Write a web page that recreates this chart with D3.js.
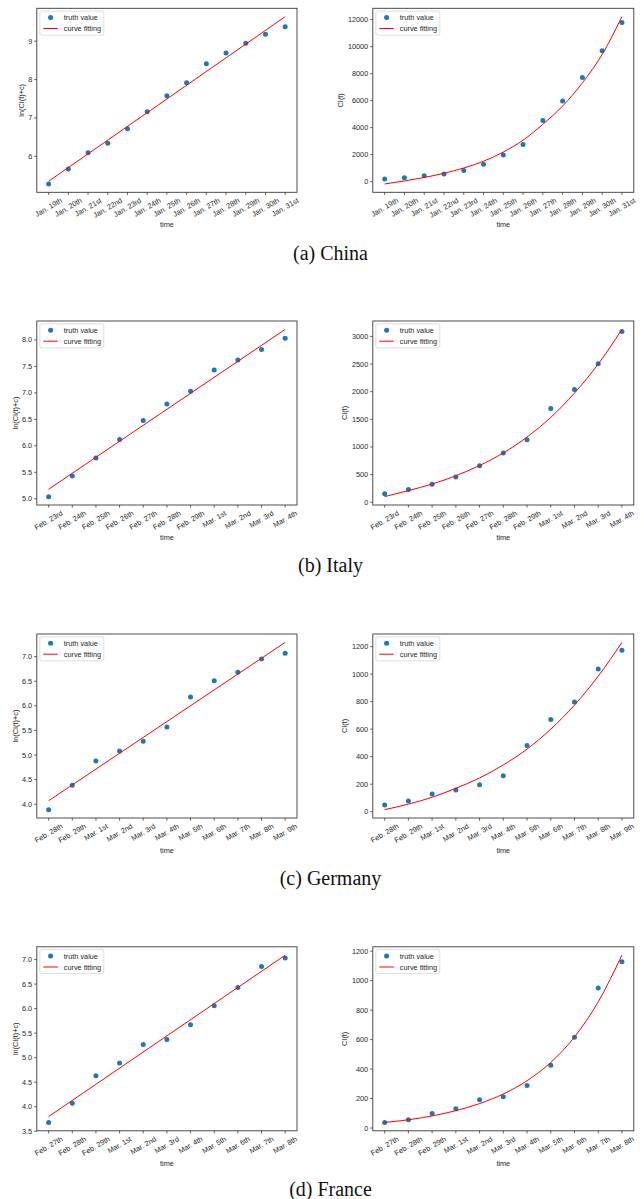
<!DOCTYPE html>
<html>
<head>
<meta charset="utf-8">
<script src="https://cdn.jsdelivr.net/npm/d3@7"></script>
<style>
  html, body { margin: 0; padding: 0; background: #fff; }
  svg { display: block; }
</style>
</head>
<body>
<svg id="fig" width="644" height="1199"></svg>
<script>
// ---- China ----
const datesChina = ["Jan. 19th","Jan. 20th","Jan. 21st","Jan. 22nd","Jan. 23rd","Jan. 24th","Jan. 25th","Jan. 26th","Jan. 27th","Jan. 28th","Jan. 29th","Jan. 30th","Jan. 31st"];
const casesChina = [200, 290, 440, 570, 830, 1290, 1970, 2750, 4520, 5970, 7710, 9700, 11790];
const fitChina = [-170, 50, 310, 620, 1010, 1510, 2190, 3070, 4250, 5600, 7320, 9420, 12220];
const lnChina = [5.28, 5.67, 6.09, 6.34, 6.72, 7.16, 7.58, 7.92, 8.41, 8.69, 8.95, 9.18, 9.38];
const lnFitChina = [5.35, 9.64];
const lnTicksChina = [6, 7, 8, 9];
const ciTicksChina = [0, 2000, 4000, 6000, 8000, 10000, 12000];

// ---- Italy ----
const datesItaly = ["Feb. 23rd","Feb. 24th","Feb. 25th","Feb. 26th","Feb. 27th","Feb. 28th","Feb. 29th","Mar. 1st","Mar. 2nd","Mar. 3rd","Mar. 4th"];
const casesItaly = [155, 230, 325, 455, 660, 890, 1130, 1695, 2040, 2505, 3090];
const fitItaly = [102, 211, 330, 480, 665, 892, 1180, 1535, 1975, 2500, 3127];
const lnItaly = [5.04, 5.43, 5.77, 6.12, 6.48, 6.79, 7.03, 7.43, 7.62, 7.82, 8.03];
const lnFitItaly = [5.18, 8.20];
const lnTicksItaly = [5.0, 5.5, 6.0, 6.5, 7.0, 7.5, 8.0];
const ciTicksItaly = [0, 500, 1000, 1500, 2000, 2500, 3000];

// ---- Germany ----
const datesGermany = ["Feb. 28th","Feb. 29th","Mar. 1st","Mar. 2nd","Mar. 3rd","Mar. 4th","Mar. 5th","Mar. 6th","Mar. 7th","Mar. 8th","Mar. 9th"];
const casesGermany = [48, 77, 128, 157, 196, 261, 481, 670, 798, 1038, 1173];
const fitGermany = [15, 55, 105, 170, 245, 340, 455, 600, 775, 985, 1231];
const lnGermany = [3.89, 4.385, 4.88, 5.08, 5.28, 5.57, 6.18, 6.51, 6.68, 6.95, 7.07];
const lnFitGermany = [4.07, 7.29];
const lnTicksGermany = [4.0, 4.5, 5.0, 5.5, 6.0, 6.5, 7.0];
const ciTicksGermany = [0, 200, 400, 600, 800, 1000, 1200];

// ---- France ----
const datesFrance = ["Feb. 27th","Feb. 28th","Feb. 29th","Mar. 1st","Mar. 2nd","Mar. 3rd","Mar. 4th","Mar. 5th","Mar. 6th","Mar. 7th","Mar. 8th"];
const casesFrance = [38, 57, 99, 131, 192, 212, 289, 426, 616, 950, 1128];
const fitFrance = [38, 56, 82, 118, 166, 231, 321, 445, 618, 856, 1173];
const lnFrance = [3.68, 4.07, 4.63, 4.89, 5.27, 5.37, 5.67, 6.06, 6.43, 6.86, 7.03];
const lnFitFrance = [3.80, 7.09];
const lnTicksFrance = [3.5, 4.0, 4.5, 5.0, 5.5, 6.0, 6.5, 7.0];
const ciTicksFrance = [0, 200, 400, 600, 800, 1000, 1200];

const captions = ["(a) China", "(b) Italy", "(c) Germany", "(d) France"];
const legendLabels = ["truth value", "curve fitting"];
const xLabel = "time";
const lnLabel = "ln(CI(t)+c)";
const ciLabel = "CI(t)";

const rows = [
  { dates: datesChina,   ln: lnChina,   lnFit: lnFitChina,   lnTicks: lnTicksChina,   lnFmt: d3.format("d"),   cases: casesChina,   fit: fitChina,   ciTicks: ciTicksChina },
  { dates: datesItaly,   ln: lnItaly,   lnFit: lnFitItaly,   lnTicks: lnTicksItaly,   lnFmt: d3.format(".1f"), cases: casesItaly,   fit: fitItaly,   ciTicks: ciTicksItaly },
  { dates: datesGermany, ln: lnGermany, lnFit: lnFitGermany, lnTicks: lnTicksGermany, lnFmt: d3.format(".1f"), cases: casesGermany, fit: fitGermany, ciTicks: ciTicksGermany },
  { dates: datesFrance,  ln: lnFrance,  lnFit: lnFitFrance,  lnTicks: lnTicksFrance,  lnFmt: d3.format(".1f"), cases: casesFrance,  fit: fitFrance,  ciTicks: ciTicksFrance }
];

// ---- layout ----
const SANS = "'Liberation Sans', Arial, sans-serif";
const SERIF = "'Liberation Serif', 'Times New Roman', serif";
const FS = 7.3;
const BLUE = "#1f77b4", RED = "#ff0000", INK = "#262626";
const rowTops = [8.3, 321, 634, 946.8];
const captionY = [259.5, 572, 884.5, 1196];
const panelH = 184;
const leftX = [36.8, 297];
const rightX = [372.8, 633.8];

const svg = d3.select("#fig");
svg.append("rect").attr("width", 644).attr("height", 1199).attr("fill", "#fff");

function drawPanel(g, x0, x1, top, dates, pts, fitPts, fitIdx, ticks, fmt, yLab, curve) {
  const n = dates.length;
  const bottom = top + panelH;
  const pad = 0.05 * (n - 1);
  const x = d3.scaleLinear().domain([-pad, n - 1 + pad]).range([x0, x1]);
  const all = pts.concat(fitPts);
  const lo = d3.min(all), hi = d3.max(all), m = 0.05 * (hi - lo);
  const y = d3.scaleLinear().domain([lo - m, hi + m]).range([bottom, top]);

  // points
  g.append("g").selectAll("circle").data(pts).join("circle")
    .attr("cx", (d, i) => x(i)).attr("cy", d => y(d)).attr("r", 2.5)
    .attr("fill", BLUE);

  // fitted curve
  const line = d3.line().x((d, i) => x(fitIdx[i])).y(d => y(d)).curve(curve);
  g.append("path").datum(fitPts).attr("d", line)
    .attr("fill", "none").attr("stroke", RED).attr("stroke-width", 1);

  // frame
  g.append("rect").attr("x", x0).attr("y", top).attr("width", x1 - x0).attr("height", panelH)
    .attr("fill", "none").attr("stroke", "#3a3a3a").attr("stroke-width", 0.9);

  // x ticks
  const xt = g.append("g");
  xt.selectAll("line").data(dates).join("line")
    .attr("x1", (d, i) => x(i)).attr("x2", (d, i) => x(i))
    .attr("y1", bottom).attr("y2", bottom + 2.6)
    .attr("stroke", "#3a3a3a").attr("stroke-width", 0.8);
  const ang = 30 * Math.PI / 180;
  xt.selectAll("text").data(dates).join("text")
    .text(d => d)
    .attr("font-family", SANS).attr("font-size", FS).attr("fill", INK)
    .attr("text-anchor", "middle").attr("dominant-baseline", "central")
    .each(function (d, i) {
      const w = this.getComputedTextLength();
      const hb = w * Math.sin(ang) + FS * 0.8 * Math.cos(ang);
      const cx = x(i), cy = bottom + 5 + hb / 2;
      d3.select(this).attr("x", cx).attr("y", cy)
        .attr("transform", `rotate(-30,${cx},${cy})`);
    });

  // y ticks
  const yt = g.append("g");
  yt.selectAll("line").data(ticks).join("line")
    .attr("x1", x0 - 2.6).attr("x2", x0)
    .attr("y1", d => y(d)).attr("y2", d => y(d))
    .attr("stroke", "#3a3a3a").attr("stroke-width", 0.8);
  let maxW = 0;
  yt.selectAll("text").data(ticks).join("text")
    .text(d => fmt(d))
    .attr("x", x0 - 4.6).attr("y", d => y(d))
    .attr("font-family", SANS).attr("font-size", FS).attr("fill", INK)
    .attr("text-anchor", "end").attr("dominant-baseline", "central")
    .each(function () { maxW = Math.max(maxW, this.getComputedTextLength()); });

  // axis labels
  g.append("text").text(xLabel)
    .attr("x", (x0 + x1) / 2).attr("y", bottom + 32.5)
    .attr("font-family", SANS).attr("font-size", FS).attr("fill", INK)
    .attr("text-anchor", "middle").attr("dominant-baseline", "central");
  // y label sits just outside the widest tick label
  const labX = x0 - 4.6 - maxW - 7;
  const labY = top + panelH / 2;
  g.append("text").text(yLab)
    .attr("x", labX).attr("y", labY)
    .attr("transform", `rotate(-90,${labX},${labY})`)
    .attr("font-family", SANS).attr("font-size", FS).attr("fill", INK)
    .attr("text-anchor", "middle").attr("dominant-baseline", "central");

  // legend
  const lg = g.append("g");
  lg.append("rect").attr("x", x0 + 3).attr("y", top + 2.8).attr("width", 64).attr("height", 24)
    .attr("rx", 2).attr("fill", "#fff").attr("fill-opacity", 0.85)
    .attr("stroke", "#d6d6d6").attr("stroke-width", 0.8);
  lg.append("circle").attr("cx", x0 + 13.8).attr("cy", top + 9.2).attr("r", 2.5).attr("fill", BLUE);
  lg.append("line").attr("x1", x0 + 6.5).attr("x2", x0 + 21).attr("y1", top + 20.2).attr("y2", top + 20.2)
    .attr("stroke", RED).attr("stroke-width", 1);
  lg.selectAll("text").data(legendLabels).join("text")
    .text(d => d)
    .attr("x", x0 + 27).attr("y", (d, i) => top + 9.2 + i * 11)
    .attr("font-family", SANS).attr("font-size", FS).attr("fill", INK)
    .attr("dominant-baseline", "central");
}

rows.forEach((r, k) => {
  const top = rowTops[k];
  const n = r.dates.length;
  drawPanel(svg.append("g"), leftX[0], leftX[1], top, r.dates, r.ln, r.lnFit, [0, n - 1],
            r.lnTicks, r.lnFmt, lnLabel, d3.curveLinear);
  drawPanel(svg.append("g"), rightX[0], rightX[1], top, r.dates, r.cases, r.fit, d3.range(n),
            r.ciTicks, d3.format("d"), ciLabel, d3.curveMonotoneX);
  svg.append("text").text(captions[k])
    .attr("x", 330.5).attr("y", captionY[k])
    .attr("font-family", SERIF).attr("font-size", 20).attr("fill", "#111")
    .attr("text-anchor", "middle");
});
</script>
</body>
</html>
